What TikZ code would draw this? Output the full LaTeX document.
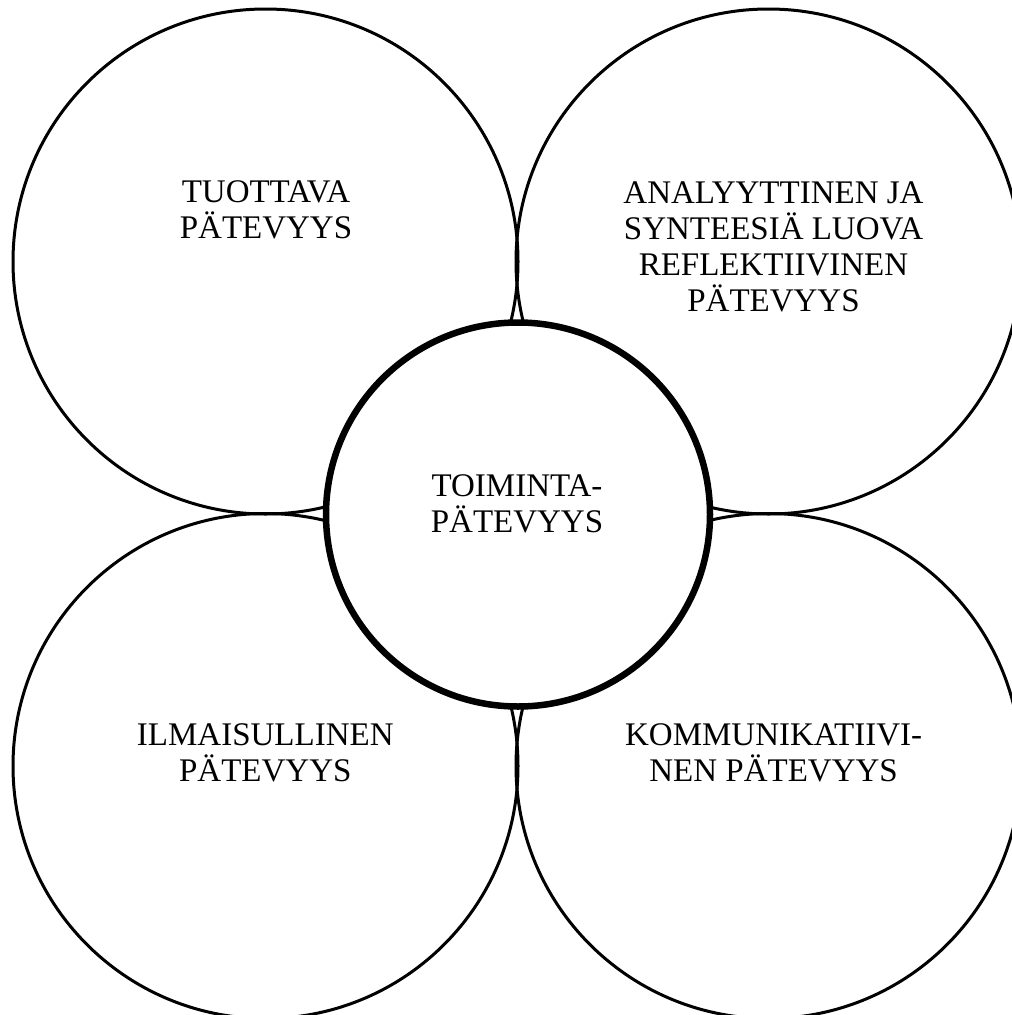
\documentclass[tikz,border=0pt]{standalone}
\usepackage{fontspec}
\setmainfont{Liberation Serif}
\begin{document}
\begin{tikzpicture}[x=1pt,y=-1pt,
  bigcircle/.style={draw=black, circle, line width=3pt, minimum size=505pt, inner sep=0pt},
  corecircle/.style={draw=black, fill=white, circle, line width=6.5pt, minimum size=384pt, inner sep=0pt},
  lbl/.style={align=center, inner sep=0pt, font=\fontsize{33}{36}\selectfont}]
\useasboundingbox (0,0) rectangle (1012,1015);
\fill[white] (0,0) rectangle (1012,1015);
\clip (0,0) rectangle (1012,1015);
\node[bigcircle] (tl) at (265.5,261.5) {};
\node[bigcircle] (tr) at (768.5,261.5) {};
\node[bigcircle] (bl) at (265.5,766) {};
\node[bigcircle] (br) at (768.5,766) {};
\node[corecircle] (core) at (518,514.5) {};
\node[lbl] (tltext) at (266,209.5) {TUOTTAVA\\PÄTEVYYS};
\node[lbl] (trtext) at (773.5,247) {ANALYYTTINEN JA\\SYNTEESIÄ LUOVA\\REFLEKTIIVINEN\\PÄTEVYYS};
\node[lbl] (coretext) at (517,504) {TOIMINTA-\\PÄTEVYYS};
\node[lbl] (bltext) at (265.3,752.8) {ILMAISULLINEN\\PÄTEVYYS};
\node[lbl] (brtext) at (773.6,752.8) {KOMMUNIKATIIVI-\\NEN PÄTEVYYS};
\end{tikzpicture}
\end{document}
